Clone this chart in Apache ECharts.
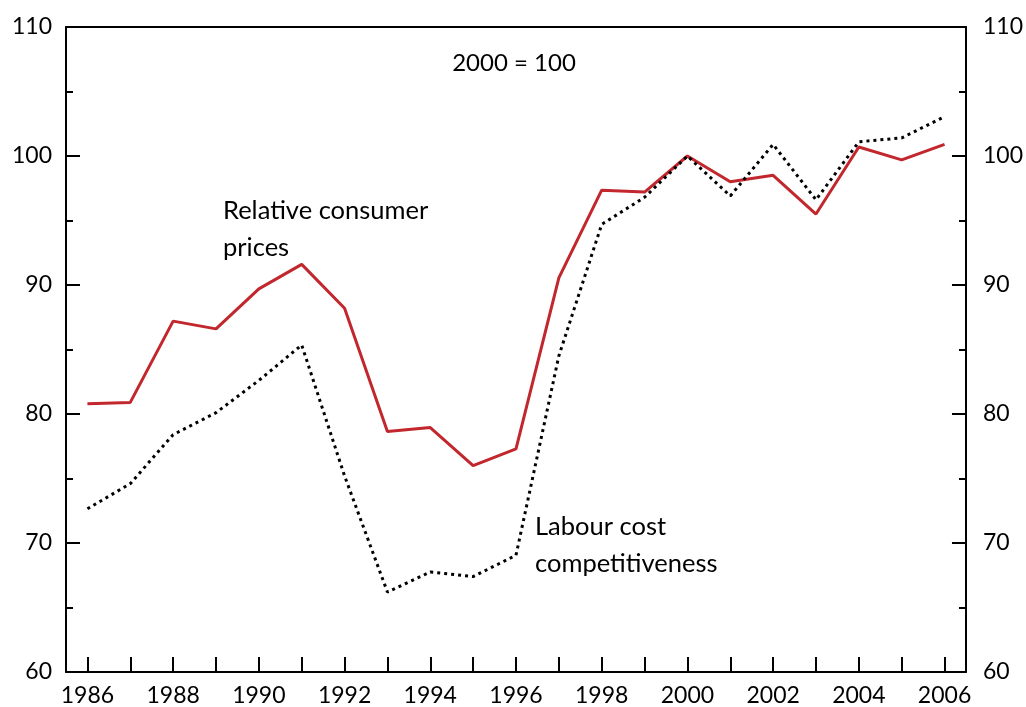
<!DOCTYPE html>
<html>
<head>
<meta charset="utf-8">
<script src="https://cdn.jsdelivr.net/npm/echarts@6/dist/echarts.min.js"></script>
<style>
html,body{margin:0;padding:0;background:#fff;}
#chart{width:1026px;height:707px;}
</style>
</head>
<body>
<div id="chart"></div>
<script>
const years = ['1986','1987','1988','1989','1990','1991','1992','1993','1994','1995','1996','1997','1998','1999','2000','2001','2002','2003','2004','2005','2006'];
const relativeConsumerPrices = [80.8, 80.9, 87.2, 86.6, 89.7, 91.6, 88.2, 78.65, 78.95, 76.0, 77.3, 90.55, 97.35, 97.2, 100.0, 98.0, 98.5, 95.5, 100.7, 99.7, 100.9];
const labourCostCompetitiveness = [72.65, 74.6, 78.4, 80.1, 82.6, 85.35, 75.2, 66.2, 67.75, 67.4, 69.05, 84.5, 94.7, 96.8, 100.0, 96.9, 100.9, 96.6, 101.1, 101.4, 103.05];
const yTicks = {min: 60, max: 110, interval: 10};
const labels = {
  base: '2000 = 100',
  rcp: 'Relative consumer\nprices',
  lcc: 'Labour cost\ncompetitiveness'
};

const FONT = 'Lato';
const chart = echarts.init(document.getElementById('chart'));
const axisLabelStyle = {color: '#000', fontFamily: FONT, fontSize: 23};
function yAxisDef(pos, margin) {
  return {
    type: 'value', position: pos,
    min: yTicks.min, max: yTicks.max, interval: yTicks.interval,
    axisLine: {show: true, lineStyle: {color: '#000', width: 2}},
    axisTick: {show: true, inside: true, length: 14, lineStyle: {color: '#000', width: 2}},
    minorTick: {show: true, splitNumber: 2, length: 7, lineStyle: {color: '#000', width: 2}},
    splitLine: {show: false},
    axisLabel: Object.assign({margin: margin}, axisLabelStyle)
  };
}
const option = {
  animation: false,
  backgroundColor: '#fff',
  grid: {left: 66, right: 60, top: 27, bottom: 34, containLabel: false},
  xAxis: [
    {
      type: 'category', data: years, position: 'bottom', boundaryGap: true,
      axisLine: {show: true, lineStyle: {color: '#000', width: 2}},
      axisTick: {show: true, inside: true, alignWithLabel: true, interval: 0, length: 15, lineStyle: {color: '#000', width: 2}},
      axisLabel: Object.assign({interval: 1, margin: 12}, axisLabelStyle),
      splitLine: {show: false}
    },
    {
      type: 'category', data: years, position: 'top', boundaryGap: true,
      axisLine: {show: true, lineStyle: {color: '#000', width: 2}},
      axisTick: {show: false}, axisLabel: {show: false}, splitLine: {show: false}
    }
  ],
  yAxis: [yAxisDef('left', 14), yAxisDef('right', 17)],
  series: [
    {
      name: 'Relative consumer prices', type: 'line', data: relativeConsumerPrices,
      xAxisIndex: 0, yAxisIndex: 0, symbol: 'none',
      lineStyle: {color: '#c1272d', width: 3}
    },
    {
      name: 'Labour cost competitiveness', type: 'line', data: labourCostCompetitiveness,
      xAxisIndex: 0, yAxisIndex: 0, symbol: 'none', z: 3,
      lineStyle: {color: '#000', width: 3, type: [3, 4]}
    }
  ],
  graphic: [
    {type: 'text', style: {text: labels.base, x: 514, y: 63, textAlign: 'center', textVerticalAlign: 'middle', font: '24px ' + FONT, fill: '#000'}},
    {type: 'text', style: {text: labels.rcp, x: 223, y: 192, textVerticalAlign: 'top', lineHeight: 37, font: '25.5px ' + FONT, fill: '#000'}},
    {type: 'text', style: {text: labels.lcc, x: 535, y: 508, textVerticalAlign: 'top', lineHeight: 37, font: '25.5px ' + FONT, fill: '#000'}}
  ]
};
chart.setOption(option);
</script>
</body>
</html>
